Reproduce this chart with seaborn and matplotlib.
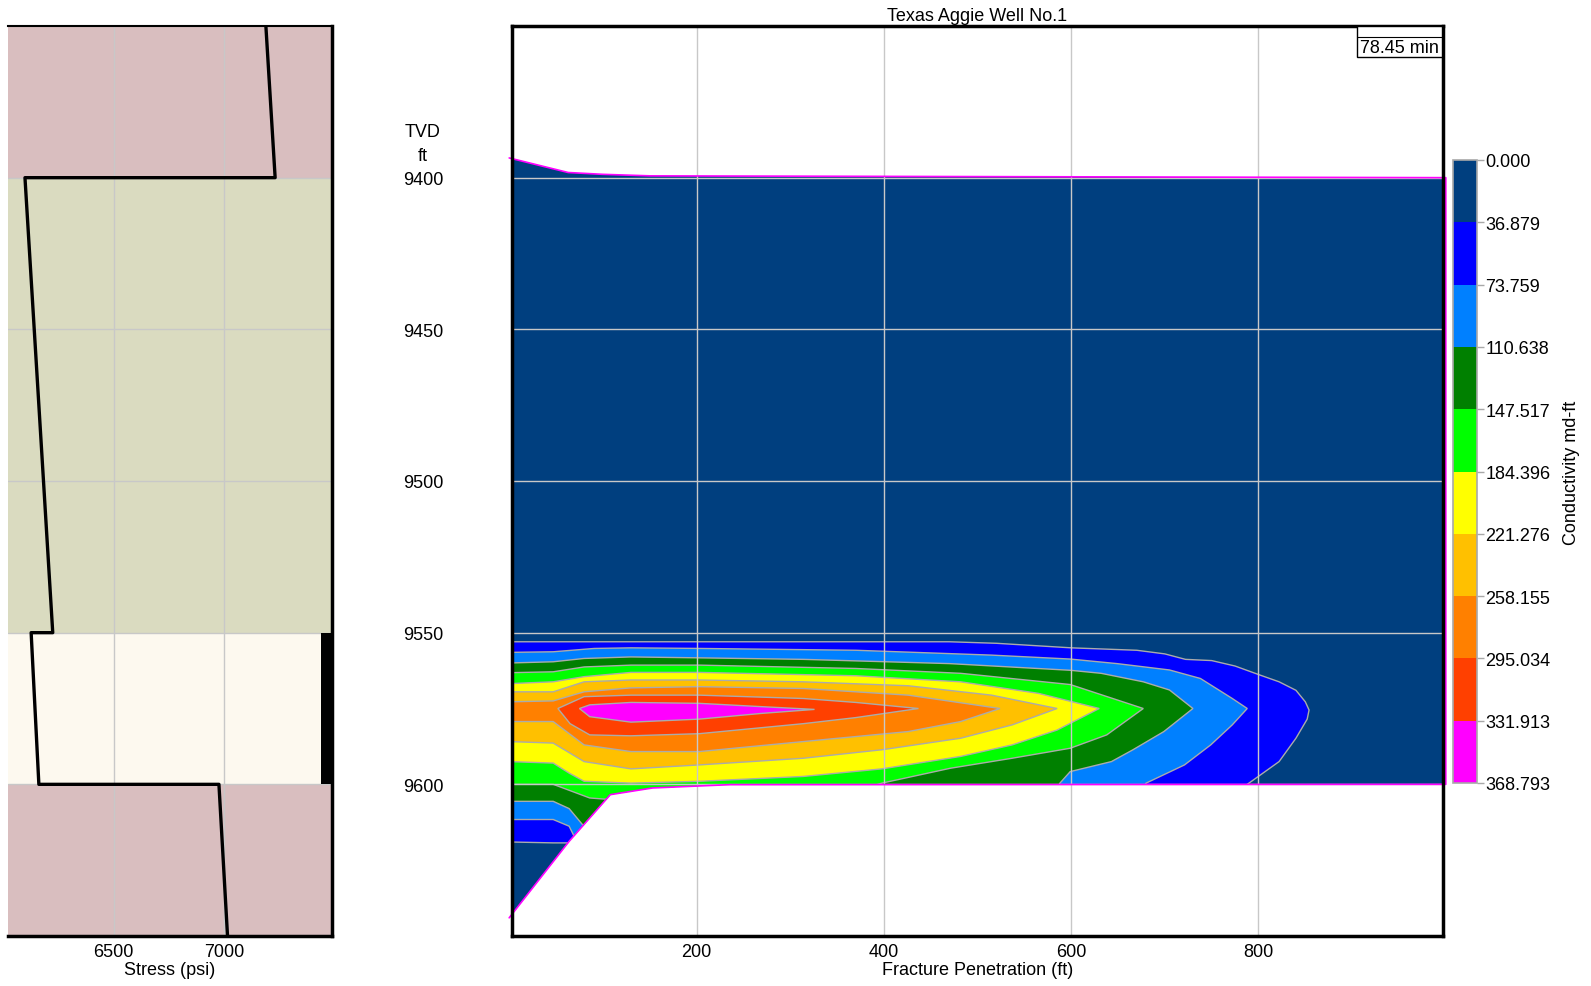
import matplotlib
matplotlib.use("Agg")
import numpy as np
import pandas as pd
import matplotlib.pyplot as plt
import matplotlib.colors as mcolors
import matplotlib.cm as mcm
from matplotlib.patches import Rectangle
import seaborn as sns

# ---------------- data ----------------
title = "Texas Aggie Well No.1"
elapsed = "78.45 min"

# stress profile (psi vs TVD ft)
stress_psi = [7190, 7232, 6097, 6223, 6125, 6160, 6977, 7016]
stress_tvd = [9350, 9400, 9400, 9550, 9550, 9600, 9600, 9650]

# lithology layers
layer_top = [9350, 9400, 9550, 9600]
layer_bottom = [9400, 9550, 9600, 9650]
layer_colors = ["#D9BEBF", "#DADBC0", "#FDF9EF", "#D9BEBF"]

# perforated interval
perf_top, perf_bottom = 9550, 9600

# fracture outline (penetration ft, TVD ft)
frac_top_x = [0, 63, 100, 150, 1000]
frac_top_d = [9393.5, 9398.3, 9398.9, 9399.4, 9400.0]
frac_bot_x = [1000, 236, 153, 108, 64, 0]
frac_bot_d = [9600.0, 9600.1, 9601.2, 9603.4, 9618.8, 9644.0]

# conductivity levels (md-ft) and band colours
levels = [0.000, 36.879, 73.759, 110.638, 147.517, 184.396,
          221.276, 258.155, 295.034, 331.913, 368.793]
band_colors = ["#003F7F", "#0000FF", "#0080FF", "#008000", "#00FF00",
               "#FFFF00", "#FFC000", "#FF8000", "#FF4000", "#FF00FF"]

# isoline outlines for each level: upper edge left->right, then lower edge right->left
iso1_x = [0, 470, 520, 600, 670, 700, 722, 750, 775, 800, 822, 840, 850, 854,
          852, 840, 822, 788, 770, 700, 100, 64, 47, 0]
iso1_d = [9553.0, 9553.0, 9553.5, 9555.0, 9555.8, 9557.0, 9558.8, 9559.2, 9561.0, 9563.8, 9566.2, 9569.0, 9572.8, 9575.5,
          9578.5, 9584.8, 9592.5, 9600.0, 9605.0, 9630.0, 9630.0, 9619.3, 9619.3, 9619.0]

iso2_x = [0, 47, 91, 130, 203, 370, 515, 599, 649, 705, 738, 772, 788,
          772, 749, 721, 680, 660, 90, 64, 47, 0]
iso2_d = [9556.5, 9556.3, 9555.2, 9555.0, 9555.2, 9555.8, 9557.4, 9558.7, 9560.2, 9562.3, 9565.1, 9571.7, 9575.0,
          9580.4, 9587.0, 9593.6, 9599.6, 9610.0, 9630.0, 9613.8, 9611.6, 9611.6]

iso3_x = [0, 47, 80, 130, 203, 314, 470, 599, 632, 677, 705, 730,
          699, 666, 643, 599, 588, 570, 110, 64, 47, 0]
iso3_d = [9560.0, 9559.6, 9558.5, 9558.0, 9558.3, 9558.8, 9560.2, 9562.4, 9563.4, 9566.2, 9568.9, 9575.0,
          9582.6, 9588.6, 9592.5, 9595.8, 9599.6, 9610.0, 9625.0, 9608.0, 9605.6, 9605.6]

iso4_x = [0, 47, 80, 130, 203, 370, 482, 599, 677,
          638, 599, 537, 471, 398, 350, 150, 86, 60, 47, 0]
iso4_d = [9563.2, 9562.9, 9561.3, 9560.7, 9560.7, 9561.8, 9563.4, 9567.1, 9575.0,
          9583.7, 9588.1, 9591.4, 9594.7, 9599.6, 9604.0, 9606.0, 9604.5, 9601.5, 9600.0, 9600.0]

iso5_x = [0, 47, 80, 130, 203, 370, 482, 565, 630,
          585, 537, 482, 398, 314, 203, 130, 80, 64, 47, 0]
iso5_d = [9566.8, 9566.2, 9564.5, 9563.1, 9563.1, 9564.2, 9566.2, 9570.0, 9575.0,
          9582.1, 9587.0, 9590.8, 9594.9, 9597.4, 9599.0, 9599.6, 9599.0, 9596.3, 9593.0, 9592.5]

iso6_x = [0, 47, 80, 130, 203, 314, 426, 515, 585,
          537, 482, 398, 314, 203, 130, 80, 47, 0]
iso6_d = [9569.5, 9569.5, 9566.2, 9565.6, 9565.6, 9566.2, 9567.5, 9570.6, 9575.0,
          9580.4, 9584.8, 9588.6, 9591.4, 9593.6, 9594.9, 9592.5, 9586.4, 9585.9]

iso7_x = [0, 47, 80, 130, 203, 314, 426, 524,
          482, 426, 314, 203, 130, 80, 47, 0]
iso7_d = [9572.8, 9572.5, 9569.5, 9568.2, 9567.8, 9568.4, 9570.6, 9575.0,
          9579.3, 9582.6, 9585.9, 9589.2, 9589.2, 9587.0, 9579.3, 9579.3]

iso8_x = [52, 80, 130, 203, 314, 370, 437,
          370, 314, 203, 130, 86, 65, 52]
iso8_d = [9575.0, 9571.1, 9570.6, 9570.6, 9571.7, 9573.0, 9575.0,
          9578.0, 9580.0, 9583.3, 9584.0, 9583.7, 9580.0, 9575.0]

iso9_x = [75, 86, 130, 203, 270, 326,
          270, 203, 130, 86, 75]
iso9_d = [9575.0, 9573.8, 9573.0, 9573.3, 9574.4, 9575.3,
          9576.6, 9578.5, 9579.5, 9577.7, 9575.0]

isolines = [(iso1_x, iso1_d), (iso2_x, iso2_d), (iso3_x, iso3_d),
            (iso4_x, iso4_d), (iso5_x, iso5_d), (iso6_x, iso6_d),
            (iso7_x, iso7_d), (iso8_x, iso8_d), (iso9_x, iso9_d)]

depth_ticks = [9400, 9450, 9500, 9550, 9600]
stress_ticks = [6500, 7000]
pen_ticks = [200, 400, 600, 800]

# ---------------- style ----------------
sns.set_theme(style="whitegrid")
plt.rcParams["font.family"] = ["Liberation Sans", "DejaVu Sans"]
plt.rcParams.update({
    "font.size": 13,
    "axes.facecolor": "white",
    "grid.color": "#C8C8C8",
    "grid.linewidth": 1.0,
    "text.color": "black",
    "axes.labelcolor": "black",
    "xtick.color": "black",
    "ytick.color": "black",
})

W, H = 1591, 987
fig = plt.figure(figsize=(W / 100, H / 100), dpi=100)


def px_box(x0, y0, x1, y1):
    return [x0 / W, 1 - y1 / H, (x1 - x0) / W, (y1 - y0) / H]


ax_s = fig.add_axes(px_box(8, 27, 332, 937))
ax = fig.add_axes(px_box(512, 27, 1443, 937))
cax = fig.add_axes(px_box(1453, 161, 1477, 784))

# ---------------- stress panel ----------------
for top, bot, col in zip(layer_top, layer_bottom, layer_colors):
    ax_s.axhspan(top, bot, color=col, lw=0, zorder=0)
ax_s.axhspan(perf_top, perf_bottom, xmin=0.965, xmax=1.0, color="black", lw=0, zorder=3)

stress_df = pd.DataFrame({"stress": stress_psi, "tvd": stress_tvd})
sns.lineplot(data=stress_df, x="stress", y="tvd", sort=False, estimator=None,
             color="black", linewidth=2.4, ax=ax_s, zorder=2)

ax_s.set_xlim(6020, 7490)
ax_s.set_ylim(9650, 9350)
ax_s.set_xticks(stress_ticks)
ax_s.set_yticks(depth_ticks)
ax_s.set_yticklabels([])
ax_s.grid(True, color="#C8C8C8", lw=1.0)
ax_s.set_axisbelow(True)
ax_s.tick_params(axis="both", length=0, labelsize=13, pad=5)
ax_s.set_xlabel("Stress (psi)", fontsize=13, labelpad=1)
ax_s.set_ylabel("")
for side, lw in (("top", 1.5), ("right", 2.5), ("bottom", 2.5)):
    ax_s.spines[side].set_color("black")
    ax_s.spines[side].set_linewidth(lw)
ax_s.spines["left"].set_visible(False)

# ---------------- fracture conductivity panel ----------------
frac_x = frac_top_x + frac_bot_x
frac_d = frac_top_d + frac_bot_d
frac_patch = ax.fill(frac_x, frac_d, facecolor=band_colors[0], edgecolor="none", zorder=1)[0]

for (ix, idd), col in zip(isolines, band_colors[1:]):
    poly = ax.fill(ix, idd, facecolor=col, edgecolor="#ABABAB", linewidth=1.0, zorder=1.2)[0]
    poly.set_clip_path(frac_patch)

# fracture outline: top edge, tip and bottom edge (the wellbore side is the axis)
ax.plot(frac_x, frac_d, color="#FF00FF", lw=1.2, zorder=3, clip_on=False)

ax.set_xlim(3, 997)
ax.set_ylim(9650, 9350)
ax.set_xticks(pen_ticks)
ax.set_yticks(depth_ticks)
ax.grid(True, color="#C8C8C8", lw=1.0)
ax.set_axisbelow(False)
ax.tick_params(axis="x", length=0, labelsize=13, pad=5)
ax.tick_params(axis="y", length=0, labelsize=13, pad=64)
for lab in ax.get_yticklabels():
    lab.set_horizontalalignment("center")
ax.set_xlabel("Fracture Penetration (ft)", fontsize=13, labelpad=1)
ax.set_ylabel("")
ax.set_title(title, fontsize=13, pad=4)
for side in ("top", "right", "bottom", "left"):
    ax.spines[side].set_color("black")
    ax.spines[side].set_linewidth(2.5)
    ax.spines[side].set_zorder(4)

ax.annotate("ft", xy=(0, 9400), xycoords=("axes fraction", "data"),
            xytext=(-64.1, 16.3), textcoords="offset points",
            ha="center", va="center", fontsize=13, annotation_clip=False)
ax.annotate("TVD", xy=(0, 9400), xycoords=("axes fraction", "data"),
            xytext=(-64.1, 33.1), textcoords="offset points",
            ha="center", va="center", fontsize=13, annotation_clip=False)

# elapsed time box
ax.add_patch(Rectangle((0.9077, 0.9656), 0.0912, 0.0344, transform=ax.transAxes,
                       facecolor="white", edgecolor="black", lw=1.0, zorder=5, clip_on=False))
ax.plot([0.9077, 0.9989], [0.9882, 0.9882], transform=ax.transAxes, color="black",
        lw=0.8, zorder=6, clip_on=False)
ax.text(0.9533, 0.9769, elapsed, transform=ax.transAxes, ha="center", va="center",
        fontsize=13, zorder=7)

# ---------------- colour bar ----------------
cmap = mcolors.ListedColormap(band_colors)
norm = mcolors.BoundaryNorm(levels, cmap.N)
cb = fig.colorbar(mcm.ScalarMappable(norm=norm, cmap=cmap), cax=cax,
                  ticks=levels, drawedges=True, spacing="uniform")
cax.invert_yaxis()
cax.yaxis.set_major_formatter(matplotlib.ticker.FuncFormatter(lambda v, p: f"{v:.3f}"))
cb.outline.set_edgecolor("#A8A8A8")
cb.outline.set_linewidth(1.2)
cb.dividers.set_color("#A8A8A8")
cb.dividers.set_linewidth(1.5)
cax.tick_params(axis="y", length=5, width=1, color="#A8A8A8", pad=1, labelsize=13)
cax.grid(False)
fig.text(1572 / W, 1 - 473 / H, "Conductivity md-ft", rotation=90,
         ha="center", va="center", fontsize=13)

fig.savefig("out.png", dpi=100)
